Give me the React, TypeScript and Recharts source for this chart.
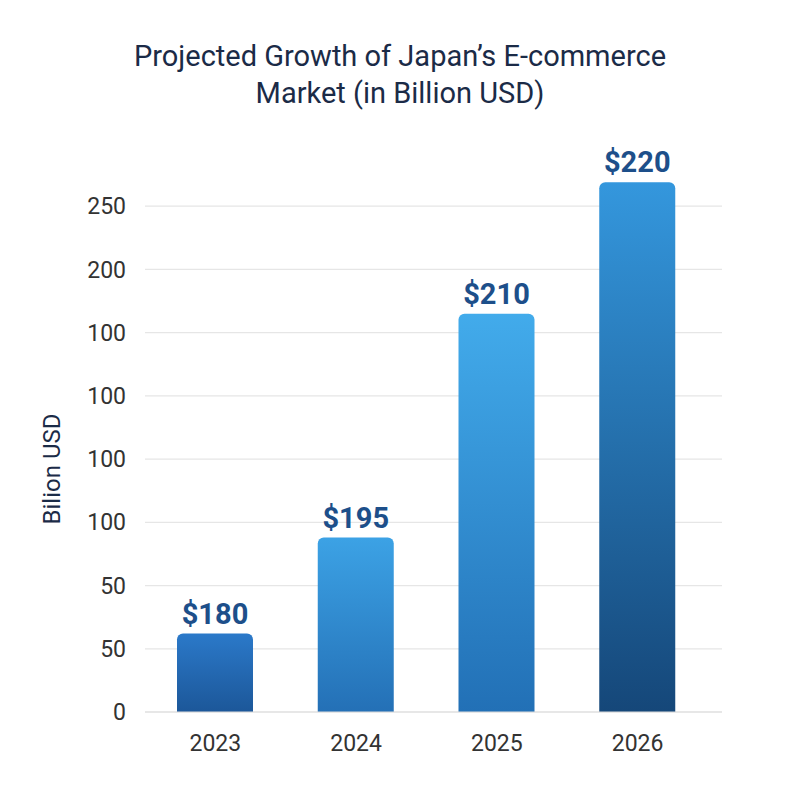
import { BarChart, Bar, XAxis, YAxis, CartesianGrid, Cell, LabelList } from 'recharts'

// bar heights as drawn on the axis (the picture's axis labels don't follow the values)
const years = ['2023', '2024', '2025', '2026']
const barHeights = [62, 138, 315, 419]
const valueLabels = ['$180', '$195', '$210', '$220']

const yTicks = [0, 50, 100, 150, 200, 250, 300, 350, 400]
const yTickLabels = ['0', '50', '50', '100', '100', '100', '100', '200', '250']

const gradientTops = ['#2b79c9', '#3ca2e5', '#42abeb', '#3497dd']
const gradientBottoms = ['#1c5799', '#2470b6', '#2270b6', '#154779']

const data = years.map((year, i) => ({
  year,
  height: barHeights[i],
  label: valueLabels[i],
}))

const FONT = 'Roboto, "Noto Sans", sans-serif'

export default function App() {
  return (
    <div style={{ position: 'absolute', left: 0, top: 0, width: 800, height: 800, background: '#fff' }}>
      <div
        style={{
          position: 'absolute',
          left: 0,
          top: 38,
          width: 800,
          textAlign: 'center',
          fontFamily: FONT,
          fontSize: 29,
          lineHeight: '37px',
          color: '#1b2b47',
        }}
      >
        Projected Growth of Japan’s E-commerce
        <br />
        Market (in Billion USD)
      </div>
      <BarChart
        width={800}
        height={800}
        data={data}
        margin={{ top: 143, right: 78, left: 0, bottom: 28 }}
      >
        <defs>
          {years.map((y, i) => (
            <linearGradient key={y} id={`grad-${i}`} x1="0" y1="0" x2="0" y2="1">
              <stop offset="0%" stopColor={gradientTops[i]} />
              <stop offset="100%" stopColor={gradientBottoms[i]} />
            </linearGradient>
          ))}
        </defs>
        <CartesianGrid vertical={false} horizontalValues={yTicks} stroke="#e6e6e6" strokeWidth={1.2} />
        <XAxis
          dataKey="year"
          height={60}
          padding={{ left: 0, right: 14 }}
          axisLine={{ stroke: '#dcdcdc', strokeWidth: 1.2 }}
          tickLine={false}
          tickSize={0}
          tickMargin={23}
          tick={{ fill: '#333', fontSize: 23, fontFamily: FONT }}
        />
        <YAxis
          width={145}
          domain={[0, 450]}
          ticks={yTicks}
          interval={0}
          axisLine={false}
          tickLine={false}
          tickSize={0}
          tickMargin={19}
          tickFormatter={(_v: number, i: number) => yTickLabels[i]}
          tick={{ fill: '#333', fontSize: 23, fontFamily: FONT }}
          label={{
            content: () => (
              <text
                x={60}
                y={469}
                transform="rotate(-90 60 469)"
                textAnchor="middle"
                fill="#1b2b47"
                fontSize={24}
                fontFamily={FONT}
              >
                Bilion USD
              </text>
            ),
          }}
        />
        <Bar dataKey="height" barSize={76} radius={[6, 6, 0, 0]} isAnimationActive={false}>
          {data.map((d, i) => (
            <Cell key={d.year} fill={`url(#grad-${i})`} />
          ))}
          <LabelList
            dataKey="label"
            position="top"
            offset={10}
            fill="#1d4f8a"
            fontSize={29}
            fontWeight={700}
            fontFamily={FONT}
          />
        </Bar>
      </BarChart>
    </div>
  )
}
